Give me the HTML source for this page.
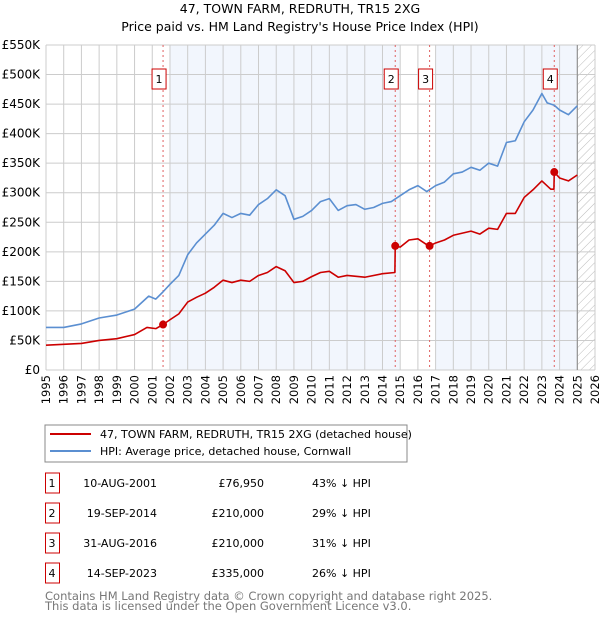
<!DOCTYPE html>
<html><head><meta charset="utf-8"><style>
body{margin:0;background:#fff;font-family:"DejaVu Sans","Liberation Sans",sans-serif;}
svg text{font-family:"DejaVu Sans","Liberation Sans",sans-serif;}
</style></head><body>
<svg id="c" width="600" height="620" xmlns="http://www.w3.org/2000/svg">
<defs><pattern id="hatch" width="6" height="6" patternUnits="userSpaceOnUse" patternTransform="rotate(45)"><line x1="0" y1="0" x2="0" y2="6" stroke="#bbb" stroke-width="1"/></pattern></defs>
<text x="300" y="13" text-anchor="middle" font-size="12.5">47, TOWN FARM, REDRUTH, TR15 2XG</text>
<text x="300" y="31" text-anchor="middle" font-size="12.5">Price paid vs. HM Land Registry's House Price Index (HPI)</text>
<g id="plot"></g>
<rect x="45" y="425" width="362" height="37" fill="none" stroke="#888"/>
<line x1="50" y1="434" x2="91" y2="434" stroke="#cc0000" stroke-width="2"/>
<text x="100" y="438" font-size="11">47, TOWN FARM, REDRUTH, TR15 2XG (detached house)</text>
<line x1="50" y1="451" x2="91" y2="451" stroke="#5b8fd1" stroke-width="2"/>
<text x="100" y="455" font-size="11">HPI: Average price, detached house, Cornwall</text>
<g id="table"></g>
<text x="45" y="600" font-size="11.5" fill="#777">Contains HM Land Registry data © Crown copyright and database right 2025.</text>
<text x="45" y="610" font-size="11.5" fill="#777">This data is licensed under the Open Government Licence v3.0.</text>
</svg>
<script>
const hpiYears=[1995,1996,1997,1998,1999,2000,2000.8,2001.2,2001.6,2002,2002.5,2003,2003.5,2004,2004.5,2005,2005.5,2006,2006.5,2007,2007.5,2008,2008.5,2009,2009.5,2010,2010.5,2011,2011.5,2012,2012.5,2013,2013.5,2014,2014.5,2015,2015.5,2016,2016.5,2017,2017.5,2018,2018.5,2019,2019.5,2020,2020.5,2021,2021.5,2022,2022.5,2023,2023.3,2023.7,2024,2024.5,2025];
const hpiValues=[72,72,78,88,93,103,125,120,132,145,160,195,215,230,245,265,258,265,262,280,290,305,295,255,260,270,285,290,270,278,280,272,275,282,285,295,305,312,302,312,318,332,335,343,338,350,345,385,388,420,440,468,452,448,440,432,447];
const propYears=[1995,1997,1998,1999,2000,2000.7,2001.2,2001.61,2002,2002.5,2003,2003.5,2004,2004.5,2005,2005.5,2006,2006.5,2007,2007.5,2008,2008.5,2009,2009.5,2010,2010.5,2011,2011.5,2012,2013,2014,2014.7,2014.72,2015,2015.5,2016,2016.5,2016.66,2017,2017.5,2018,2019,2019.5,2020,2020.5,2021,2021.5,2022,2022.5,2023,2023.5,2023.68,2023.7,2024,2024.5,2025];
const propValues=[42,45,50,53,60,72,70,77,85,95,115,123,130,140,152,148,152,150,160,165,175,168,148,150,158,165,167,157,160,157,163,165,210,208,220,222,212,210,215,220,228,235,230,240,238,265,265,292,305,320,306,306,335,325,320,330];
const saleYears=[2001.61,2014.72,2016.66,2023.70];
const salePrices=[76950,210000,210000,335000];
const saleLabels=["1","2","3","4"];
const saleDates=["10-AUG-2001","19-SEP-2014","31-AUG-2016","14-SEP-2023"];
const salePriceText=["£76,950","£210,000","£210,000","£335,000"];
const salePct=["43% ↓ HPI","29% ↓ HPI","31% ↓ HPI","26% ↓ HPI"];
const yTicks=[0,50,100,150,200,250,300,350,400,450,500,550];
const yTickLabels=["£0","£50K","£100K","£150K","£200K","£250K","£300K","£350K","£400K","£450K","£500K","£550K"];
const xTicks=[1995,1996,1997,1998,1999,2000,2001,2002,2003,2004,2005,2006,2007,2008,2009,2010,2011,2012,2013,2014,2015,2016,2017,2018,2019,2020,2021,2022,2023,2024,2025,2026];
const shadeRanges=[[2002,2015],[2017,2025]];

const L=46,R=595,T=45,B=370;
const X=y=>L+(y-1995)/(2026-1995)*(R-L);
const Y=v=>B-v/550*(B-T);
const NS="http://www.w3.org/2000/svg";
const g=document.getElementById('plot');
function mk(tag,attrs,parent){const e=document.createElementNS(NS,tag);for(const k in attrs)e.setAttribute(k,attrs[k]);(parent||g).appendChild(e);return e;}
shadeRanges.forEach(r=>{const e=mk('rect',{x:X(r[0]),y:T,width:X(r[1])-X(r[0]),height:B-T,fill:'#eef3fc',opacity:0.75});

});
const h=mk('rect',{x:X(2025),y:T,width:R-X(2025),height:B-T,fill:'url(#hatch)'});


xTicks.forEach(t=>{const e=mk('line',{x1:X(t),x2:X(t),y1:T,y2:B,stroke:'#ccc','stroke-width':1});


const tx=mk('text',{x:0,y:0,'font-size':11.5,'text-anchor':'end',transform:`translate(${X(t)+4},${B+5}) rotate(-90)`});
tx.textContent=t;

});
yTicks.forEach((t,i)=>{const e=mk('line',{x1:L,x2:R,y1:Y(t),y2:Y(t),stroke:'#ccc','stroke-width':1});


const tx=mk('text',{x:L-6,y:Y(t)+4,'font-size':12,'text-anchor':'end'});
tx.textContent=yTickLabels[i];

});
const dv=mk('line',{x1:X(2025),x2:X(2025),y1:T,y2:B,stroke:'#888','stroke-width':1});


saleYears.forEach((s,i)=>{const e=mk('line',{x1:X(s),x2:X(s),y1:T,y2:B,stroke:'#e06060','stroke-width':1,'stroke-dasharray':'2,3'});


const bx=X(s)-11;
const r=mk('rect',{x:bx,y:69,width:14,height:20,fill:'#fff',stroke:'#cc0000','stroke-width':1});


const t=mk('text',{x:bx+7,y:83,'font-size':11,'text-anchor':'middle'});
t.textContent=saleLabels[i];

});
function line(xs,vs,color,name){const p=mk('polyline',{points:xs.map((x,i)=>X(x)+','+Y(vs[i])).join(' '),fill:'none',stroke:color,'stroke-width':1.6,'stroke-linejoin':'round'});

}
line(hpiYears,hpiValues,'#5b8fd1','hpi-line');
line(propYears,propValues,'#cc0000','property-line');
saleYears.forEach((s,i)=>{const c=mk('circle',{cx:X(s),cy:Y(salePrices[i]/1000),r:4,fill:'#cc0000'});

});
const tb=document.getElementById('table');
saleLabels.forEach((l,i)=>{const y=473+i*30;
const r=mk('rect',{x:45.5,y:y,width:14,height:20,fill:'#fff',stroke:'#cc0000'},tb);


const cells=[[52,l,'middle'],[157,saleDates[i],'end'],[264,salePriceText[i],'end'],[312,salePct[i],'start']];
cells.forEach(c=>{const t=mk('text',{x:c[0],y:y+14,'font-size':11,'text-anchor':c[2]},tb);
t.textContent=c[1];

});});
</script>
</body></html>
